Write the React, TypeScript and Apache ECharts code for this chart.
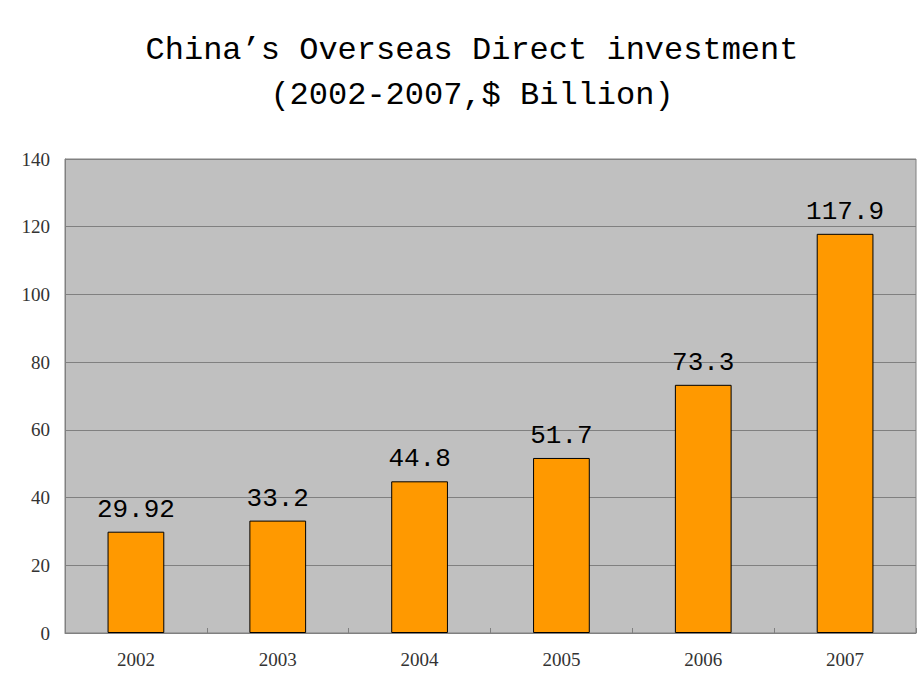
import React, { useEffect, useRef } from "react";
import * as echarts from "echarts";

const titleLines = ["China’s Overseas Direct investment", "(2002-2007,$ Billion)"];
const years = ["2002", "2003", "2004", "2005", "2006", "2007"];
const values = [29.92, 33.2, 44.8, 51.7, 73.3, 117.9];
const valueLabels = ["29.92", "33.2", "44.8", "51.7", "73.3", "117.9"];
const yMin = 0;
const yMax = 140;
const yStep = 20;

export default function App() {
  const ref = useRef<HTMLDivElement>(null);
  useEffect(() => {
    if (!ref.current) return;
    const chart = echarts.init(ref.current, undefined, { renderer: "svg" });
    chart.setOption({
      animation: false,
      backgroundColor: "#ffffff",
      title: {
        text: titleLines.join("\n"),
        left: 467,
        top: 23,
        textAlign: "center",
        textStyle: {
          fontFamily: "Liberation Mono",
          fontSize: 32,
          fontWeight: "normal",
          color: "#000000",
          lineHeight: 45,
        },
      },
      grid: {
        left: 65,
        right: 4,
        top: 159,
        bottom: 57,
        show: true,
        backgroundColor: "#C0C0C0",
        borderColor: "#808080",
        borderWidth: 1,
      },
      xAxis: {
        type: "category",
        data: years,
        axisLine: { show: true, lineStyle: { color: "#808080", width: 1 } },
        axisTick: { show: true, inside: true, length: 5, lineStyle: { color: "#808080" } },
        axisLabel: {
          fontFamily: "Liberation Serif",
          fontSize: 19,
          color: "#333333",
          margin: 17,
        },
      },
      yAxis: {
        type: "value",
        min: yMin,
        max: yMax,
        interval: yStep,
        axisLine: { show: true, lineStyle: { color: "#808080", width: 1 } },
        axisTick: { show: false },
        splitLine: { show: true, lineStyle: { color: "#808080", width: 1 } },
        axisLabel: {
          fontFamily: "Liberation Serif",
          fontSize: 19,
          color: "#333333",
          margin: 15,
        },
      },
      series: [
        {
          type: "bar",
          data: values,
          barWidth: "40%",
          itemStyle: { color: "#FF9900", borderColor: "#000000", borderWidth: 1 },
          label: {
            show: true,
            position: "top",
            distance: 9,
            fontFamily: "Liberation Mono",
            fontSize: 26,
            color: "#000000",
            formatter: (p: any) => valueLabels[p.dataIndex],
          },
        },
      ],
    });
    return () => chart.dispose();
  }, []);
  return (
    <div
      ref={ref}
      style={{ position: "fixed", left: 0, top: 0, width: 920, height: 690 }}
    />
  );
}
